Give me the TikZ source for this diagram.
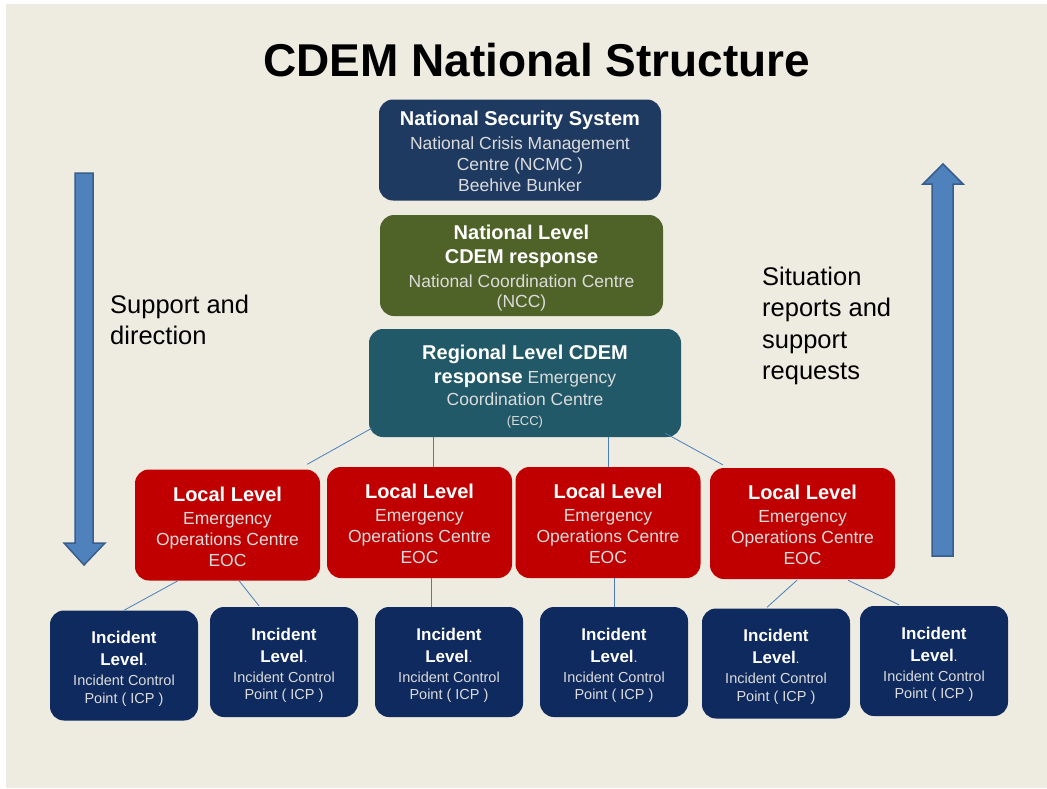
\documentclass[tikz,border=0pt]{standalone}
\usepackage{fontspec}
\setmainfont{Liberation Sans}
\definecolor{slidebg}{HTML}{EEECE1}
\definecolor{nssblue}{HTML}{1F3A60}
\definecolor{nccolive}{HTML}{4F6228}
\definecolor{eccteal}{HTML}{215968}
\definecolor{eocred}{HTML}{C00000}
\definecolor{icpnavy}{HTML}{0F2A5E}
\definecolor{arrowblue}{HTML}{4F81BD}
\definecolor{arrowedge}{HTML}{385D8A}
\definecolor{linkblue}{HTML}{4A7EBB}
\definecolor{subgrey}{HTML}{DCDCDC}
\newcommand{\hd}[1]{{\color{white}\bfseries\fontsize{20}{20}\selectfont #1}}
\newcommand{\ihd}[1]{{\color{white}\bfseries\fontsize{17}{17}\selectfont #1}}
\newcommand{\sm}[1]{{\fontsize{13}{13}\selectfont #1}}
\newcommand{\push}[1]{\rule{0pt}{#1pt}}

\begin{document}
\begin{tikzpicture}[x=1pt,y=-1pt,
  box/.style={rounded corners=14pt, inner sep=0pt, align=center, text=subgrey, font=\fontsize{17.5}{20}\selectfont},
  topbox/.style={box, minimum width=282pt, minimum height=101pt},
  eocbox/.style={box, fill=eocred, minimum width=185pt, minimum height=111pt, font=\fontsize{17.5}{21}\selectfont},
  icpbox/.style={box, fill=icpnavy, minimum width=148pt, minimum height=110pt, font=\fontsize{14.5}{17.5}\selectfont},
  sidetext/.style={inner sep=0pt, align=left, anchor=west, font=\fontsize{25.5}{31.5}\selectfont},
  blockarrow/.style={fill=arrowblue, draw=arrowedge, line width=1.5pt, line join=miter},
  link/.style={draw=linkblue, line width=0.8pt}]
\useasboundingbox (0,0) rectangle (1047,788);
\fill[white] (0,0) rectangle (1047,788);
\fill[slidebg] (6,4) rectangle (1047,788);

\node[font=\bfseries\fontsize{46}{46}\selectfont] (title) at (537,60) {CDEM National Structure};

% national and regional levels
\node[topbox, fill=nssblue, font=\fontsize{17.5}{21}\selectfont] (nss) at (520,150) {\push{16.6}\hd{National Security System}\\[3pt] National Crisis Management\\ Centre (NCMC )\\ Beehive Bunker};
\node[topbox, fill=nccolive, minimum width=283pt] (ncc) at (521.5,265.5) {\push{20.5}\hd{National Level}\\[4pt] \hd{CDEM response}\\[4pt] National Coordination Centre\\ (NCC)};
\node[box, fill=eccteal, minimum width=312pt, minimum height=108pt] (ecc) at (525,383) {\push{21.5}\hd{Regional Level CDEM}\\[4pt] \hd{response} Emergency\\[2pt] Coordination Centre\\ \sm{(ECC)}};

% local level
\node[eocbox] (l1) at (227.5,525) {\push{17.6}\hd{Local Level}\\[2pt] Emergency\\ Operations Centre\\ EOC};
\node[eocbox] (l2) at (419.5,522.5) {\push{17.6}\hd{Local Level}\\[2pt] Emergency\\ Operations Centre\\ EOC};
\node[eocbox] (l3) at (608,522.5) {\push{17.6}\hd{Local Level}\\[2pt] Emergency\\ Operations Centre\\ EOC};
\node[eocbox] (l4) at (802.5,523.5) {\push{17.6}\hd{Local Level}\\[2pt] Emergency\\ Operations Centre\\ EOC};

% incident level
\foreach \nm/\cx/\cy in {i1/124/665.5, i2/284/662, i3/449/662, i4/614/662, i5/776/663.5, i6/934/661}
  \node[icpbox] (\nm) at (\cx,\cy) {\push{19.4}\ihd{Incident}\\[4.5pt] \ihd{Level}.\\[2.5pt] Incident Control\\ Point ( ICP )};

% connectors
\draw[link] ([shift={(3,-9)}]ecc.south west) -- ([shift={(-13,-5)}]l1.north east);
\draw[link] ([shift={(-92,0)}]ecc.south) -- ([shift={(13.5,0)}]l2.north);
\draw[link] ([shift={(83,0)}]ecc.south) -- (l3.north);
\draw[link] ([shift={(-16,-4)}]ecc.south east) -- ([shift={(13,-3)}]l4.north west);
\draw[link] ([shift={(-49.5,0)}]l1.south) -- (i1.north);
\draw[link] ([shift={(11.5,0)}]l1.south) -- ([shift={(-25,-1)}]i2.north);
\draw[link] ([shift={(11.5,0)}]l2.south) -- ([shift={(-18,0)}]i3.north);
\draw[link] ([shift={(6,0)}]l3.south) -- (i4.north);
\draw[link] ([shift={(-5.5,1)}]l4.south) -- ([shift={(-9,-1)}]i5.north);
\draw[link] ([shift={(45.5,1)}]l4.south) -- ([shift={(-35,-1)}]i6.north);

% side arrows
\draw[blockarrow] (75,173) -- (93,173) -- (93,543) -- (105,543) -- (84,565) -- (64,543) -- (75,543) -- cycle;
\draw[blockarrow] (932,556) -- (953,556) -- (953,184) -- (963,184) -- (943,164) -- (923,184) -- (932,184) -- cycle;
\node[sidetext] (down) at (110,320) {Support and\\ direction};
\node[sidetext] (up) at (762,326) {Situation\\ reports and\\ support\\ requests};
\end{tikzpicture}
\end{document}
